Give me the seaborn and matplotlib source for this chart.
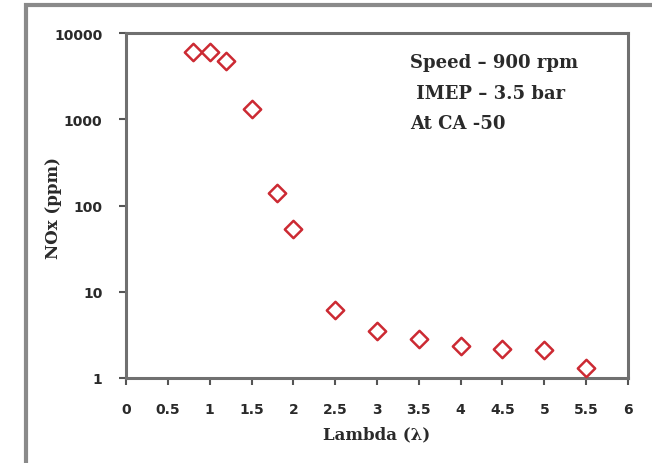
import matplotlib
matplotlib.use("Agg")
import matplotlib.pyplot as plt
import seaborn as sns
import pandas as pd
from matplotlib.patches import Rectangle
from matplotlib.ticker import FixedLocator, NullLocator

lam = [0.8, 1.0, 1.2, 1.5, 1.8, 2.0, 2.5, 3.0, 3.5, 4.0, 4.5, 5.0, 5.5]
nox = [6100, 6100, 4700, 1300, 138, 53, 6.1, 3.5, 2.87, 2.36, 2.16, 2.1, 1.29]
xticks = [0, 0.5, 1, 1.5, 2, 2.5, 3, 3.5, 4, 4.5, 5, 5.5, 6]
yticks = [1, 10, 100, 1000, 10000]
note_lines = ["Speed \u2013 900 rpm", " IMEP \u2013 3.5 bar", "At CA -50"]

sns.set_style("white")
plt.rcParams['font.family'] = ['DejaVu Serif']

df = pd.DataFrame({"lam": lam, "nox": nox})
fig = plt.figure(figsize=(6.52, 4.64), dpi=100)
W, H = 652, 464
L, R, T, B = 126, 628, 34, 379
ax = fig.add_axes([L / W, 1 - B / H, (R - L) / W, (B - T) / H])

sns.scatterplot(data=df, x="lam", y="nox", ax=ax, marker="D", s=78,
                facecolor="white", edgecolor="#cc2a33", linewidth=1.8, zorder=3)
ax.set_yscale("log")
ax.set_xlim(0, 6)
ax.set_ylim(1, 10000)
ax.xaxis.set_major_locator(FixedLocator(xticks))
ax.yaxis.set_major_locator(FixedLocator(yticks))
ax.yaxis.set_minor_locator(NullLocator())
tick_font = dict(family="DejaVu Sans", fontweight="bold", fontsize=10, color="#2a2a2a")
ax.set_xticklabels([f"{t:g}" for t in xticks], **tick_font)
ax.set_yticklabels([f"{t:g}" for t in yticks], **tick_font)
ax.tick_params(axis="x", direction="out", length=5, width=1.5, color="#555555", pad=12,
               bottom=True)
ax.tick_params(axis="y", direction="out", length=5, width=1.5, color="#555555", pad=12,
               left=True)
for s in ax.spines.values():
    s.set_color("#707070")
    s.set_linewidth(2.2)
ax.set_xlabel("Lambda (\u03bb)", fontweight="bold", fontsize=12, color="#2a2a2a")
ax.set_ylabel("NOx (ppm)", fontweight="bold", fontsize=12, color="#2a2a2a")
ax.xaxis.set_label_coords((377 - L) / (R - L), (B - 435) / (B - T))
ax.yaxis.set_label_coords((53 - L) / (R - L), (B - 208) / (B - T))
ax.xaxis.label.set_va("center")
ax.yaxis.label.set_va("center")

ax.text((410 - L) / (R - L), (B - 54) / (B - T), "\n".join(note_lines),
        transform=ax.transAxes, ha="left", va="top",
        fontsize=13, fontweight="bold", color="#2a2a2a", linespacing=1.9)

fig.patches.append(Rectangle((26 / W, -0.1), 1.2, 1 - 6 / H + 0.1, transform=fig.transFigure,
                             fill=False, edgecolor="#8a8a8a", linewidth=3))

fig.savefig("out.png", dpi=100)
